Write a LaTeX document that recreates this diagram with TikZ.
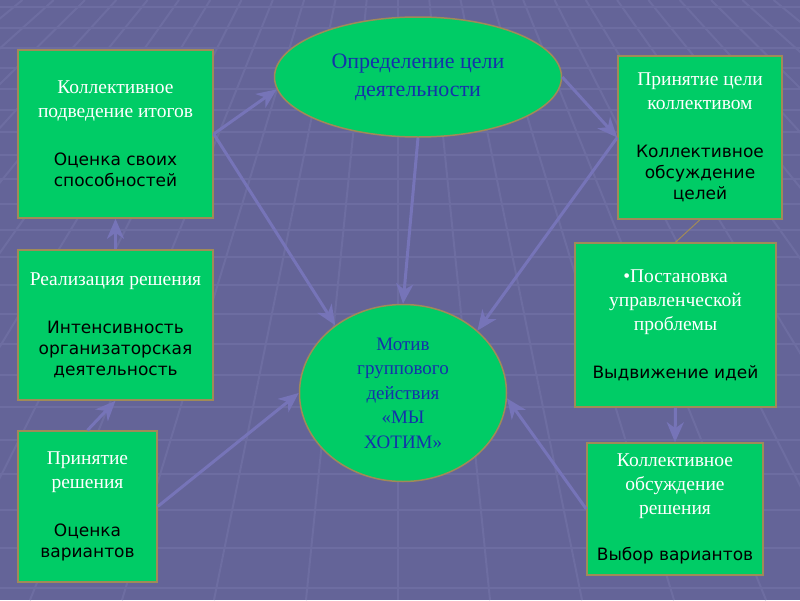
\documentclass[tikz,border=0pt]{standalone}
\usepackage{fontspec}
\setmainfont{Liberation Serif}
\newfontfamily\comicf{DejaVu Sans}
\usetikzlibrary{arrows.meta,positioning,shapes.geometric}
\definecolor{bgpurple}{RGB}{100,100,152}
\definecolor{gridlin}{RGB}{109,109,161}
\definecolor{arrowc}{RGB}{118,116,184}
\definecolor{boxgreen}{RGB}{0,204,102}
\definecolor{boxedge}{RGB}{160,138,88}
\definecolor{goalblue}{RGB}{20,50,170}
\newcommand{\cs}[1]{{\comicf\fontsize{17}{20}\selectfont\color{black}#1}}

\begin{document}
\begin{tikzpicture}[x=1pt,y=-1pt,>={Stealth[length=20pt,width=17pt,inset=6pt]},
  box/.style={draw=boxedge,line width=1.5pt,fill=boxgreen,inner sep=2pt,align=center,text=white,font=\fontsize{19.5}{24}\selectfont},
  oval/.style={draw=boxedge,line width=1.5pt,fill=boxgreen,ellipse,inner sep=0pt,align=center,text=goalblue},
  link/.style={->,draw=arrowc,line width=3pt},
  gridline/.style={draw=gridlin,line width=2pt}]
\fill[bgpurple] (0,0) rectangle (800,600);
\begin{scope}
\clip (0,0) rectangle (800,600);
\foreach \k in {-14,...,14}
  \draw[gridline] ({398+31.3*\k},0) -- ({398+92*\k},600);
\foreach \h in {7,28,48,68,89,110,132,155,179,204,230,257,285,314,344,375,407,440,474,510,548,588}
  \draw[gridline] (0,\h) -- (800,\h);
\end{scope}
\useasboundingbox (0,0) rectangle (800,600);

\node[oval,minimum width=287pt,minimum height=120pt,font=\fontsize{22}{28}\selectfont] (goal) at (418,77) {Определение цели\\деятельности};
\node[oval,minimum width=207pt,minimum height=177pt,font=\fontsize{19}{24.5}\selectfont] (motive) at (403,393) {Мотив\\группового\\действия\\«МЫ\\ХОТИМ»};
\node[box,minimum width=195pt,minimum height=168pt] (sum) at (115.5,134) {Коллективное\\подведение итогов\\[24pt]\cs{Оценка своих}\\[-3pt]\cs{способностей}};
\node[box,minimum width=164pt,minimum height=163pt] (accept) at (700,137.5) {Принятие цели\\коллективом\\[24pt]\cs{Коллективное}\\[-3pt]\cs{обсуждение}\\[-3pt]\cs{целей}};
\node[box,minimum width=201pt,minimum height=164pt] (problem) at (675.5,325) {•Постановка\\управленческой\\проблемы\\[24pt]\cs{Выдвижение идей}};
\node[box,minimum width=176pt,minimum height=132pt] (choice) at (675,509) {Коллективное\\обсуждение\\решения\\[22pt]\cs{Выбор вариантов}};
\node[box,minimum width=195pt,minimum height=150pt] (realize) at (115.5,325) {Реализация решения\\[24pt]\cs{Интенсивность}\\[-3pt]\cs{организаторская}\\[-3pt]\cs{деятельность}};
\node[box,minimum width=139pt,minimum height=151pt] (decide) at (87.5,506.5) {Принятие\\решения\\[24pt]\cs{Оценка}\\[-3pt]\cs{вариантов}};

\draw[link] (sum.east) -- (goal.185);
\draw[link] (sum.east) -- (motive.135);
\draw[link] (goal.south) -- (motive.north);
\draw[link] (goal.east) -- (accept.west);
\draw[link] (accept.west) -- (motive.40);
\draw[draw=boxedge,line width=1pt] (accept.south) -- (problem.north);
\draw[link] (problem.south) -- (choice.north);
\draw[link] (choice.west) -- (motive.-3);
\draw[link] (decide.east) -- (motive.west);
\draw[link] (decide.north) -- (realize.south);
\draw[link] (realize.north) -- (sum.south);
\end{tikzpicture}
\end{document}
